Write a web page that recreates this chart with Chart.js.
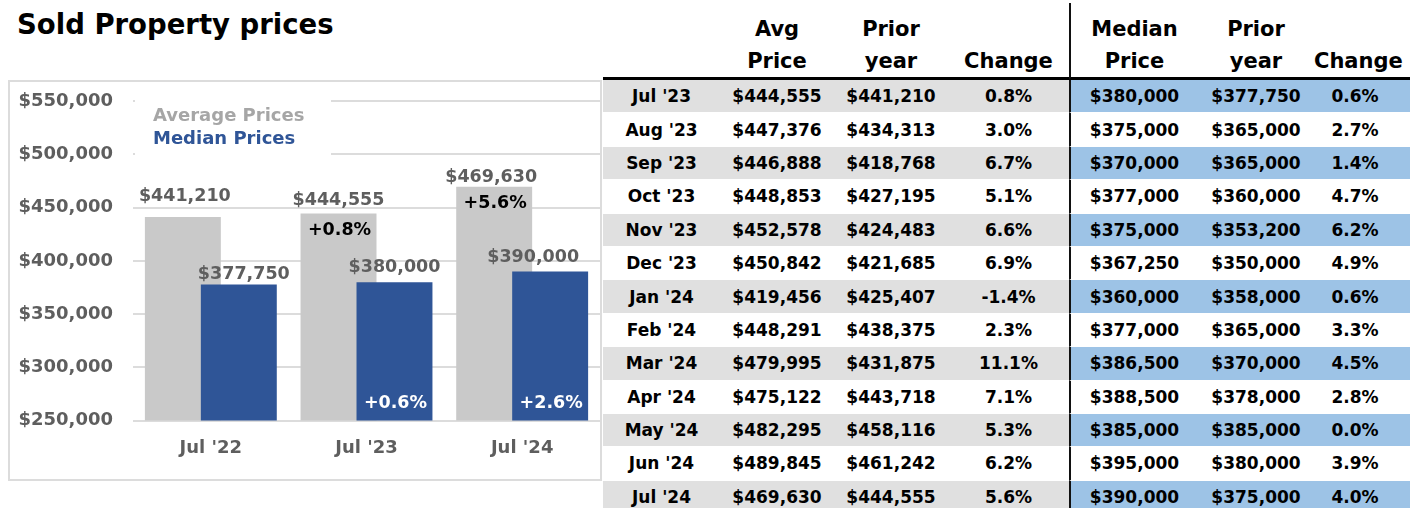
<!DOCTYPE html>
<html lang="en">
<head>
<meta charset="utf-8">
<title>Sold Property prices</title>
<script src="https://cdn.jsdelivr.net/npm/chart.js@4.4.1/dist/chart.umd.min.js"></script>
<style>
    html, body { margin: 0; padding: 0; background: #fff; }
    body {
        position: relative;
        width: 1419px;
        height: 508px;
        overflow: hidden;
        font-family: 'DejaVu Sans', sans-serif;
    }
    .title {
        position: absolute;
        left: 17px;
        top: 8px;
        font-size: 27.5px;
        line-height: 32px;
        font-weight: bold;
        color: #000;
        white-space: nowrap;
    }
    .chart-box {
        position: absolute;
        left: 8px;
        top: 80px;
        width: 590px;
        height: 397px;
        border: 2px solid #dcdcdc;
    }
    .chart-box canvas { display: block; }
    .price-table {
        position: absolute;
        left: 603px;
        top: 3px;
        width: 807px;
        table-layout: fixed;
        border-collapse: separate;
        border-spacing: 0;
        color: #000;
        font-weight: bold;
    }
    .price-table th {
        height: 74px;
        padding: 0;
        font-size: 21px;
        line-height: 32px;
        vertical-align: bottom;
        text-align: center;
        border-bottom: 3px solid #000;
    }
    .price-table td {
        height: 32.4px;
        padding: 0;
        font-size: 17px;
        text-align: center;
        vertical-align: middle;
        border-bottom: 1px solid #fff;
        white-space: nowrap;
    }
    .price-table .split { border-left: 2px solid #111; }
    .price-table .last { padding-right: 14px; }
    .price-table tr.shaded td { background: #e0e0e0; }
    .price-table tr.shaded td.median { background: #9dc3e6; }
</style>
</head>
<body>
<div class="title">Sold Property prices</div>
<div class="chart-box"><canvas id="priceChart" width="590" height="397"></canvas></div>
<table class="price-table" id="priceTable">
    <colgroup>
        <col style="width:117px"><col style="width:114px"><col style="width:114px"><col style="width:121px">
        <col style="width:129px"><col style="width:116px"><col style="width:96px">
    </colgroup>
    <thead>
        <tr>
            <th></th>
            <th>Avg<br>Price</th>
            <th>Prior<br>year</th>
            <th>Change</th>
            <th class="split">Median<br>Price</th>
            <th>Prior<br>year</th>
            <th class="last">Change</th>
        </tr>
    </thead>
    <tbody></tbody>
</table>
<script>
const categories = ["Jul '22", "Jul '23", "Jul '24"];
const averagePrices = [441210, 444555, 469630];
const medianPrices = [377750, 380000, 390000];
const averageChange = [null, 0.8, 5.6];
const medianChange = [null, 0.6, 2.6];

const yMin = 250000;
const yMax = 550000;
const yStep = 50000;

const tableMonths = ["Jul '23", "Aug '23", "Sep '23", "Oct '23", "Nov '23", "Dec '23", "Jan '24",
    "Feb '24", "Mar '24", "Apr '24", "May '24", "Jun '24", "Jul '24"];
const tableAvgPrice = [444555, 447376, 446888, 448853, 452578, 450842, 419456,
    448291, 479995, 475122, 482295, 489845, 469630];
const tableAvgPrior = [441210, 434313, 418768, 427195, 424483, 421685, 425407,
    438375, 431875, 443718, 458116, 461242, 444555];
const tableAvgChange = [0.8, 3.0, 6.7, 5.1, 6.6, 6.9, -1.4, 2.3, 11.1, 7.1, 5.3, 6.2, 5.6];
const tableMedianPrice = [380000, 375000, 370000, 377000, 375000, 367250, 360000,
    377000, 386500, 388500, 385000, 395000, 390000];
const tableMedianPrior = [377750, 365000, 365000, 360000, 353200, 350000, 358000,
    365000, 370000, 378000, 385000, 380000, 375000];
const tableMedianChange = [0.6, 2.7, 1.4, 4.7, 6.2, 4.9, 0.6, 3.3, 4.5, 2.8, 0.0, 3.9, 4.0];

const GRAY = '#c9c9c9';
const BLUE = '#2f5597';
const TEXT_GRAY = '#5e5e5e';
const FONT_FAMILY = "'DejaVu Sans', sans-serif";

function formatPrice(value) {
    return '$' + value.toLocaleString('en-US');
}

function formatPercent(value) {
    return value.toFixed(1) + '%';
}

function buildTable() {
    const body = document.querySelector('#priceTable tbody');

    tableMonths.forEach((month, i) => {
        const row = document.createElement('tr');
        if (i % 2 === 0) {
            row.className = 'shaded';
        }
        const cells = [
            [month, ''],
            [formatPrice(tableAvgPrice[i]), ''],
            [formatPrice(tableAvgPrior[i]), ''],
            [formatPercent(tableAvgChange[i]), ''],
            [formatPrice(tableMedianPrice[i]), 'median split'],
            [formatPrice(tableMedianPrior[i]), 'median'],
            [formatPercent(tableMedianChange[i]), 'median last'],
        ];
        cells.forEach(([text, cls]) => {
            const td = document.createElement('td');
            td.textContent = text;
            if (cls) {
                td.className = cls;
            }
            row.appendChild(td);
        });
        body.appendChild(row);
    });
}

// gray bars go down first so the blue ones overlap them
const averageUnderneath = {
    id: 'averageUnderneath',
    beforeDatasetsDraw(chart) {
        const { ctx, chartArea } = chart;
        ctx.save();
        ctx.beginPath();
        ctx.rect(chartArea.left, chartArea.top, chartArea.width, chartArea.height);
        ctx.clip();
        chart.getDatasetMeta(0).controller.draw();
        ctx.restore();
    },
    beforeDatasetDraw(chart, args) {
        return args.index !== 0;
    },
};

// legend block sits inside the plot on a white panel
const insideLegend = {
    id: 'insideLegend',
    beforeDatasetsDraw(chart) {
        const { ctx, chartArea } = chart;
        ctx.save();
        ctx.fillStyle = '#fff';
        ctx.fillRect(chartArea.left + 2, 10, 196, 74);
        ctx.font = 'bold 18px ' + FONT_FAMILY;
        ctx.textAlign = 'left';
        ctx.textBaseline = 'middle';
        chart.data.datasets.forEach((dataset, i) => {
            ctx.fillStyle = dataset.legendColor;
            ctx.fillText(dataset.label, chartArea.left + 20, 34 + i * 23);
        });
        ctx.restore();
    },
};

const barLabels = {
    id: 'barLabels',
    afterDatasetsDraw(chart, args, opts) {
        const { ctx, chartArea } = chart;
        ctx.save();
        ctx.textAlign = 'center';
        ctx.textBaseline = 'middle';
        ctx.font = 'bold 17.5px ' + FONT_FAMILY;

        chart.data.datasets.forEach((dataset, di) => {
            const meta = chart.getDatasetMeta(di);
            const nudge = opts.nudges[di];
            meta.data.forEach((bar, i) => {
                ctx.fillStyle = TEXT_GRAY;
                ctx.fillText(formatPrice(dataset.data[i]), bar.x + nudge.dx[i], bar.y + nudge.dy[i]);

                const change = dataset.changes[i];
                if (change === null) {
                    return;
                }
                ctx.fillStyle = dataset.changeColor;
                const bottom = Math.min(bar.base, chartArea.bottom);
                const y = di === 0 ? bar.y + 17 : bottom - 17.5;
                ctx.fillText('+' + formatPercent(change), bar.x + 1, y);
            });
        });
        ctx.restore();
    },
};

function renderChart() {
    const canvas = document.getElementById('priceChart');

    new Chart(canvas, {
        type: 'bar',
        data: {
            labels: categories,
            datasets: [
                {
                    label: 'Average Prices',
                    data: averagePrices,
                    changes: averageChange,
                    changeColor: '#000',
                    legendColor: '#a6a6a6',
                    backgroundColor: GRAY,
                },
                {
                    label: 'Median Prices',
                    data: medianPrices,
                    changes: medianChange,
                    changeColor: '#fff',
                    legendColor: BLUE,
                    backgroundColor: BLUE,
                },
            ],
        },
        options: {
            responsive: false,
            maintainAspectRatio: false,
            animation: false,
            devicePixelRatio: 1,
            categoryPercentage: 0.719,
            barPercentage: 1.357,
            layout: {
                padding: { top: 19.3, left: 0, right: 0, bottom: 0 },
            },
            plugins: {
                legend: { display: false },
                tooltip: { enabled: false },
                barLabels: {
                    nudges: [
                        { dx: [2, 0, -3], dy: [-20.5, -13.5, -9] },
                        { dx: [5, 0, -17], dy: [-10, -15, -14] },
                    ],
                },
            },
            scales: {
                x: {
                    grid: { display: false },
                    border: { display: false },
                    ticks: {
                        padding: 9,
                        color: TEXT_GRAY,
                        font: { family: FONT_FAMILY, size: 18, weight: 'bold' },
                    },
                    afterFit(scale) {
                        scale.height = 58.5;
                    },
                },
                y: {
                    min: yMin,
                    max: yMax,
                    grid: {
                        color: '#dcdcdc',
                        lineWidth: 2,
                        drawTicks: true,
                        tickLength: 20,
                        tickColor: 'rgba(0,0,0,0)',
                    },
                    border: { display: false },
                    ticks: {
                        stepSize: yStep,
                        padding: 0,
                        color: TEXT_GRAY,
                        font: { family: FONT_FAMILY, size: 18, weight: 'bold' },
                        callback: (value) => formatPrice(value),
                    },
                    afterFit(scale) {
                        scale.width = 123;
                    },
                },
            },
        },
        plugins: [averageUnderneath, insideLegend, barLabels],
    });
}

buildTable();
renderChart();
</script>
</body>
</html>
